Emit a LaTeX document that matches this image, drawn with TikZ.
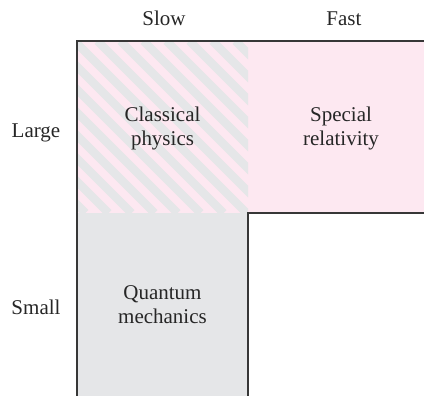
\documentclass[tikz,border=0pt]{standalone}
\usepackage{fontspec}
\setmainfont{Liberation Serif}
\definecolor{regionpink}{RGB}{253,232,241}
\definecolor{regiongray}{RGB}{229,230,232}
\definecolor{framegray}{RGB}{55,55,55}
\usetikzlibrary{positioning}

\begin{document}
\begin{tikzpicture}[
    x=1pt, y=-1pt,
    frame/.style={draw=framegray, line width=1.3pt},
    stripe/.style={draw=regiongray, line width=8.2pt},
    label/.style={font=\fontsize{21}{24}\selectfont, text=black!85, anchor=base, inner sep=0pt},
    region/.style={font=\fontsize{21}{24}\selectfont, text=black!85, align=center, inner sep=0pt}
]
    \useasboundingbox (0,0) rectangle (424,396);

    % regions
    \fill[regionpink] (248,41) rectangle (424,213);
    \fill[regiongray] (77,213) rectangle (248,396);
    \begin{scope}
        \clip (77,41) rectangle (248,213);
        \fill[regionpink] (77,41) rectangle (248,213);
        \foreach \k in {-8,...,8}
            \draw[stripe] ({33.5+23*\k+41},41) -- ({33.5+23*\k+213},213);
    \end{scope}

    % borders
    \draw[frame] (77,396) -- (77,41) -- (424,41);
    \draw[frame] (248,396) -- (248,213) -- (424,213);

    % axis labels
    \node[label] (slow) at (164,26) {Slow};
    \node[label] (fast) at (344,26) {Fast};
    \node[label] (large) at (36,138) {Large};
    \node[label] (small) at (36,315) {Small};

    % region labels
    \node[region] (classical) at (162.5,128) {Classical\\physics};
    \node[region] (special) at (341,128) {Special\\relativity};
    \node[region] (quantum) at (162.5,305) {Quantum\\mechanics};
\end{tikzpicture}
\end{document}
